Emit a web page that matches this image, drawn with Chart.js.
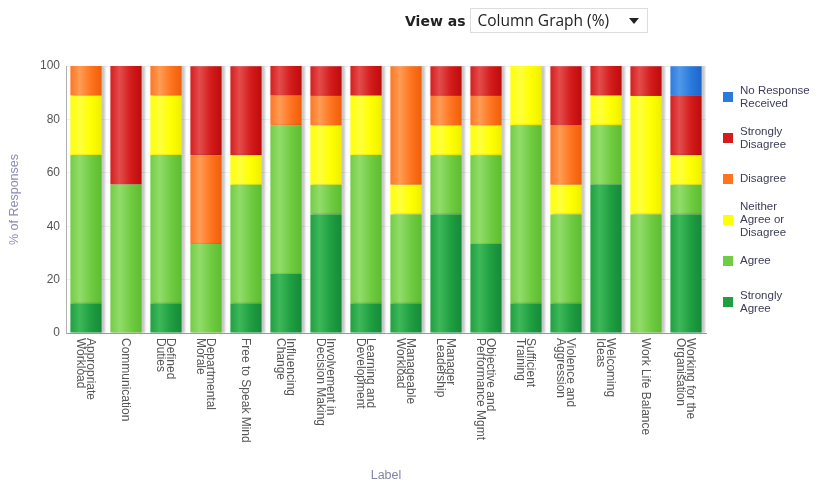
<!DOCTYPE html>
<html>
<head>
<meta charset="utf-8">
<script src="https://cdn.jsdelivr.net/npm/chart.js@4"></script>
<style>
  body { margin: 0; background: #fff; font-family: "Liberation Sans", Arial, sans-serif; }
  #wrap { position: relative; width: 817px; height: 483px; }
  #chart { position: absolute; left: 0; top: 0; }
  #viewas { position: absolute; left: 405px; top: 8px; height: 25px; display: flex; align-items: center; }
  #viewas b { font: bold 14px "DejaVu Sans", sans-serif; color: #222; margin-right: 5px; }
  #viewas .sel { width: 178px; height: 25px; border: 1px solid #ddd; box-sizing: border-box; position: relative;
    font-size: 15.5px; color: #222; line-height: 23px; padding-left: 6px; font-family: "Open Sans", sans-serif; }
  #viewas .arrow { position: absolute; right: 8px; top: 9px; width: 0; height: 0;
    border-left: 5px solid transparent; border-right: 5px solid transparent; border-top: 6px solid #222; }
  #legend { position: absolute; left: 723px; top: 76px; }
  #legend .item { height: 41px; display: flex; align-items: center; }
  #legend .box { width: 10px; height: 10px; margin-right: 7px; flex: none; }
  #legend .txt { font-size: 11.5px; line-height: 13px; color: #3c3c58; }
</style>
</head>
<body>
<div id="wrap">
  <canvas id="chart" width="817" height="483"></canvas>
  <div id="viewas"><b>View as</b><div class="sel">Column Graph (%)<span class="arrow"></span></div></div>
  <div id="legend"></div>
</div>
<script>
const categories = [
  ["Appropriate", "Workload"], ["Communication"], ["Defined", "Duties"], ["Departmental", "Morale"],
  ["Free to Speak Mind"], ["Influencing", "Change"], ["Involvement in", "Decision Making"],
  ["Learning and", "Development"], ["Manageable", "Workload"], ["Manager", "Leadership"],
  ["Objective and", "Performance Mgmt"], ["Sufficient", "Training"], ["Violence and", "Aggression"],
  ["Welcoming", "Ideas"], ["Work Life Balance"], ["Working for the", "Organisation"]
];

const stronglyAgree    = [11.1, 0, 11.1, 0, 11.1, 22.2, 44.4, 11.1, 11.1, 44.4, 33.3, 11.1, 11.1, 55.6, 0, 44.4];
const agree            = [55.6, 55.6, 55.6, 33.3, 44.4, 55.6, 11.1, 55.6, 33.3, 22.2, 33.3, 66.7, 33.3, 22.2, 44.4, 11.1];
const neither          = [22.2, 0, 22.2, 0, 11.1, 0, 22.2, 22.2, 11.1, 11.1, 11.1, 22.2, 11.1, 11.1, 44.4, 11.1];
const disagree         = [11.1, 0, 11.1, 33.3, 0, 11.1, 11.1, 0, 44.4, 11.1, 11.1, 0, 22.2, 0, 0, 0];
const stronglyDisagree = [0, 44.4, 0, 33.3, 33.3, 11.1, 11.1, 11.1, 0, 11.1, 11.1, 0, 22.2, 11.1, 11.1, 22.2];
const noResponse       = [0, 0, 0, 0, 0, 0, 0, 0, 0, 0, 0, 0, 0, 0, 0, 11.1];

const yTicks = [0, 20, 40, 60, 80, 100];

// light, base, dark
const palette = {
  sa: ["#3db85a", "#1f9f40", "#16893a"],
  a:  ["#92dc6c", "#70cc42", "#5cbc30"],
  n:  ["#ffff40", "#ffff00", "#eeee00"],
  d:  ["#ff9d55", "#ff7420", "#ee5e06"],
  sd: ["#e44c4c", "#d41c1c", "#bc0a0a"],
  nr: ["#5298ea", "#2a7ade", "#1c66c8"]
};

const series = [
  { label: "Strongly Agree", legend: ["Strongly", "Agree"], data: stronglyAgree, col: palette.sa },
  { label: "Agree", legend: ["Agree"], data: agree, col: palette.a },
  { label: "Neither Agree or Disagree", legend: ["Neither", "Agree or", "Disagree"], data: neither, col: palette.n },
  { label: "Disagree", legend: ["Disagree"], data: disagree, col: palette.d },
  { label: "Strongly Disagree", legend: ["Strongly", "Disagree"], data: stronglyDisagree, col: palette.sd },
  { label: "No Response Received", legend: ["No Response", "Received"], data: noResponse, col: palette.nr }
];

function barGradient(col) {
  return function (c) {
    const chart = c.chart;
    const x = chart.scales.x;
    if (!x || !chart.chartArea) return col[1];
    const px = x.getPixelForValue(c.dataIndex);
    const g = chart.ctx.createLinearGradient(px - 16, 0, px + 16, 0);
    g.addColorStop(0, col[1]);
    g.addColorStop(0.3, col[0]);
    g.addColorStop(0.65, col[1]);
    g.addColorStop(1, col[2]);
    return g;
  };
}

// category labels, turned to read top to bottom
const xLabels = {
  id: "xLabels",
  afterDraw(chart) {
    const ctx = chart.ctx;
    const x = chart.scales.x;
    ctx.save();
    ctx.font = "12px 'Liberation Sans', Arial, sans-serif";
    ctx.fillStyle = "#555";
    ctx.textAlign = "left";
    ctx.textBaseline = "middle";
    categories.forEach((lines, i) => {
      const px = x.getPixelForValue(i) - 1;
      ctx.save();
      ctx.translate(px, chart.chartArea.bottom + 5);
      ctx.rotate(Math.PI / 2);
      lines.forEach((t, j) => {
        const off = (j - (lines.length - 1) / 2) * 10;
        ctx.fillText(t, 0, off);
      });
      ctx.restore();
    });
    ctx.restore();
  }
};

const barShadow = {
  id: "barShadow",
  beforeDatasetsDraw(chart) {
    const ctx = chart.ctx;
    ctx.save();
    ctx.shadowColor = "rgba(0,0,0,0.22)";
    ctx.shadowOffsetX = 3;
    ctx.shadowOffsetY = 0;
    ctx.shadowBlur = 2;
  },
  afterDatasetsDraw(chart) {
    chart.ctx.restore();
  }
};

new Chart(document.getElementById("chart"), {
  type: "bar",
  data: {
    labels: categories.map(l => l.join(" ")),
    datasets: series.map(s => ({
      label: s.label,
      data: s.data,
      backgroundColor: barGradient(s.col),
      borderWidth: 0,
      barPercentage: 0.78,
      categoryPercentage: 1
    }))
  },
  options: {
    responsive: false,
    animation: false,
    layout: { padding: { top: 66, right: 111, left: 0, bottom: 0 } },
    plugins: { legend: { display: false }, tooltip: { enabled: false } },
    scales: {
      x: {
        stacked: true,
        grid: { display: false, drawTicks: false },
        border: { color: "#9a9a9a", width: 1 },
        ticks: { display: false },
        title: { display: true, text: "Label", color: "#8484a8", font: { size: 12.5, family: "'Liberation Sans', Arial" }, padding: { top: 0, bottom: 0 } },
        afterFit: s => { s.height = 150; }
      },
      y: {
        stacked: true,
        min: 0,
        max: 100,
        afterBuildTicks: s => { s.ticks = yTicks.map(v => ({ value: v })); },
        grid: { color: "#efefef", drawTicks: false },
        border: { color: "#b0b0b0", width: 1 },
        ticks: { color: "#555", padding: 6, font: { size: 12, family: "'Liberation Sans', Arial" } },
        title: { display: true, text: "% of Responses", color: "#8c8cb0", font: { size: 12.5, family: "'Liberation Sans', Arial" }, padding: { top: 7 } },
        afterFit: s => { s.width = 66; }
      }
    }
  },
  plugins: [barShadow, xLabels]
});

const legend = document.getElementById("legend");
series.slice().reverse().forEach(s => {
  const item = document.createElement("div");
  item.className = "item";
  item.innerHTML = `<span class="box" style="background:${s.col[1]}"></span><span class="txt">${s.legend.join("<br>")}</span>`;
  legend.appendChild(item);
});
</script>
</body>
</html>
